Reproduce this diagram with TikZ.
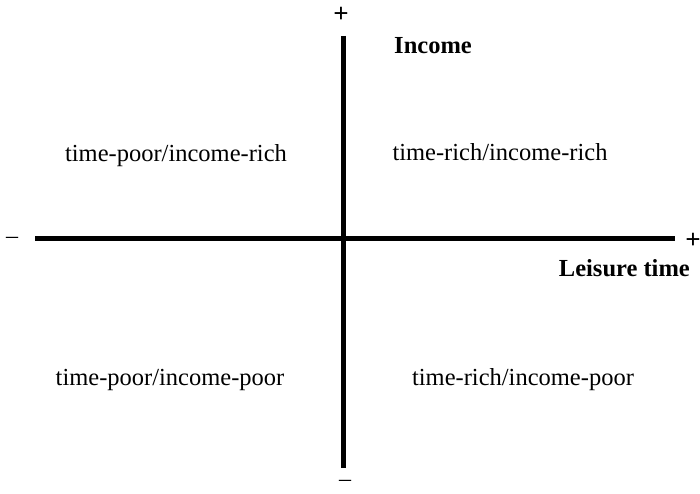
\documentclass[tikz,border=0pt]{standalone}
\usepackage{fontspec}
\setmainfont{Liberation Serif}
\begin{document}
\begin{tikzpicture}[x=1pt,y=-1pt,
  axis/.style={line width=5pt},
  lbl/.style={font=\fontsize{24.5}{28}\selectfont, inner sep=0pt},
  bl/.style={font=\fontsize{24.5}{28}\selectfont\bfseries, inner sep=0pt},
  sg/.style={font=\fontsize{27}{30}\selectfont\bfseries, inner sep=0pt},
  mn/.style={font=\fontsize{24}{28}\selectfont, inner sep=0pt}]
\useasboundingbox (0,0) rectangle (700,494);
\coordinate (top) at (343,36);
\coordinate (bot) at (343,468);
\coordinate (left) at (35,238);
\coordinate (right) at (675,238);
\draw[axis] (top) -- (bot);
\draw[axis] (left) -- (right);
\node[sg] (plt) at (341,15) {+};
\node[sg] (plr) at (693,241) {+};
\node[mn] (mnl) at (12,240) {–};
\node[mn] (mnb) at (345,483) {–};
\node[bl] (inc) at (433,46) {Income};
\node[bl, anchor=east] (lei) at (690,268) {Leisure time};
\node[lbl] (q1) at (176,156) {time-poor/income-rich};
\node[lbl] (q2) at (500,152) {time-rich/income-rich};
\node[lbl] (q3) at (170,380) {time-poor/income-poor};
\node[lbl] (q4) at (523,380) {time-rich/income-poor};
\end{tikzpicture}
\end{document}
